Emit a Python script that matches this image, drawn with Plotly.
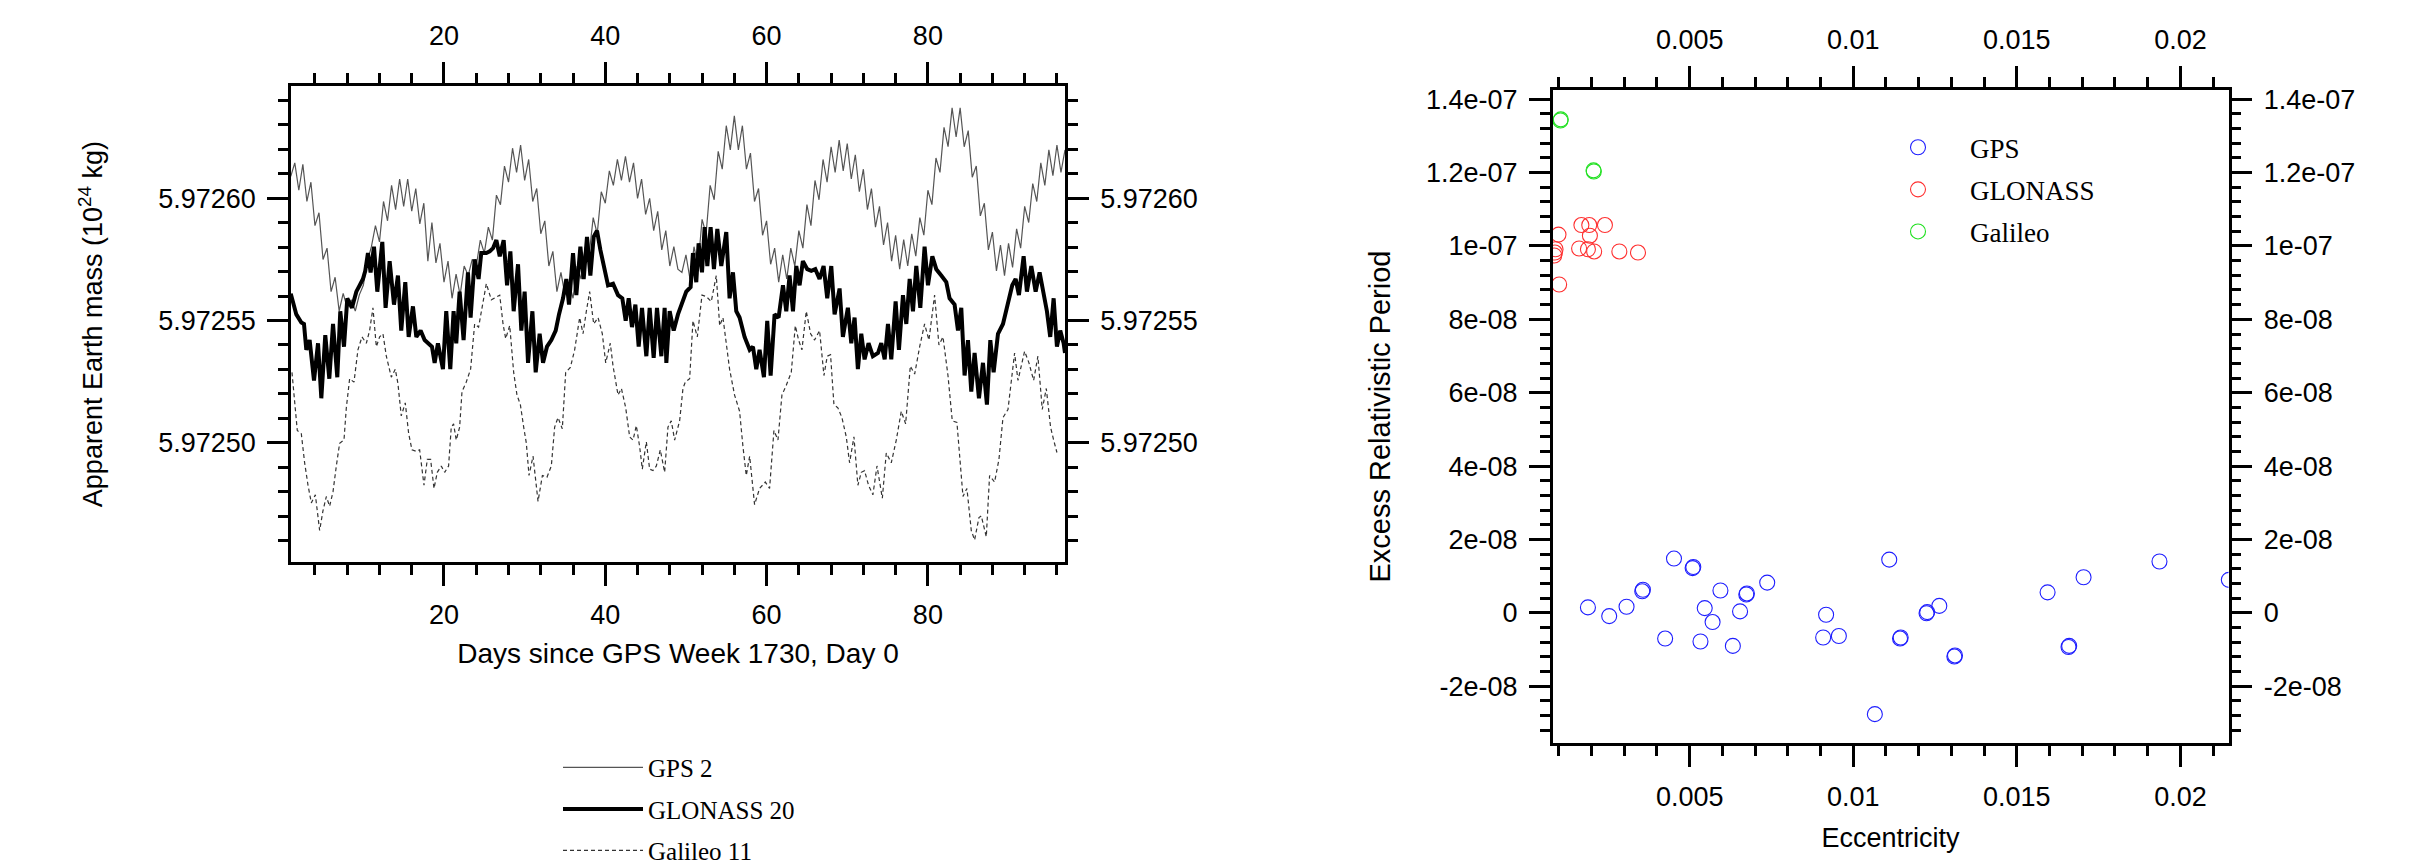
import plotly.graph_objects as go

# ---------------- Left panel data: apparent Earth mass (10^24 kg) ----------------
# GPS 2 sampled every half day from day 1.0 to 97.0
days = [1.0 + 0.5 * i for i in range(193)]
gps2_mass = [
    5.972609, 5.9726145, 5.9726033, 5.9726139, 5.9725987, 5.9726066, 5.9725888, 5.9725941,
    5.972575, 5.9725796, 5.9725618, 5.9725677, 5.9725539, 5.9725611, 5.9725552, 5.9725585,
    5.9725539, 5.9725605, 5.9725644, 5.9725743, 5.9725802, 5.9725888, 5.9725822, 5.9725987,
    5.9725908, 5.9726053, 5.9725954, 5.9726079, 5.9725967, 5.9726079, 5.9725947, 5.972604,
    5.9725895, 5.972598, 5.9725743, 5.9725901, 5.9725736, 5.9725816, 5.9725657, 5.9725743,
    5.9725591, 5.972569, 5.9725604, 5.9725723, 5.9725684, 5.972575, 5.9725723, 5.9725829,
    5.9725776, 5.9725882, 5.9725829, 5.9726013, 5.9725974, 5.9726132, 5.9726066, 5.9726205,
    5.9726106, 5.9726218, 5.9726073, 5.9726159, 5.9725987, 5.972604, 5.9725855, 5.9725908,
    5.9725723, 5.9725783, 5.9725618, 5.9725697, 5.9725604, 5.9725657, 5.9725591, 5.9725723,
    5.972567, 5.97258, 5.972577, 5.9725921, 5.9725855, 5.9726027, 5.972598, 5.9726112,
    5.9726053, 5.9726159, 5.9726073, 5.9726172, 5.9726066, 5.9726145, 5.9726, 5.9726079,
    5.9725934, 5.9726, 5.9725868, 5.9725947, 5.9725789, 5.9725868, 5.9725723, 5.9725802,
    5.972571, 5.9725697, 5.9725769, 5.972567, 5.9725802, 5.9725723, 5.9725914, 5.9725855,
    5.9726053, 5.9725994, 5.9726192, 5.9726119, 5.9726297, 5.9726198, 5.9726337, 5.9726198,
    5.9726297, 5.9726119, 5.9726185, 5.9725987, 5.972604, 5.9725849, 5.9725908, 5.972573,
    5.9725796, 5.9725657, 5.9725769, 5.972567, 5.9725796, 5.9725723, 5.9725868, 5.9725796,
    5.9725974, 5.9725888, 5.9726073, 5.9725994, 5.9726159, 5.9726066, 5.9726211, 5.9726106,
    5.9726238, 5.9726112, 5.9726224, 5.9726079, 5.9726178, 5.9726027, 5.9726119, 5.9725954,
    5.972604, 5.9725882, 5.9725967, 5.9725809, 5.9725901, 5.9725743, 5.9725849, 5.972571,
    5.9725831, 5.9725723, 5.9725855, 5.9725763, 5.9725921, 5.9725849, 5.9726033, 5.9725974,
    5.9726165, 5.9726106, 5.972629, 5.9726211, 5.972637, 5.9726251, 5.972637, 5.9726211,
    5.9726277, 5.9726086, 5.9726132, 5.9725928, 5.972598, 5.9725789, 5.9725862, 5.9725703,
    5.9725809, 5.9725684, 5.9725816, 5.9725717, 5.9725875, 5.9725796, 5.9725967, 5.9725901,
    5.972606, 5.9725987, 5.9726145, 5.9726053, 5.9726198, 5.9726093, 5.9726218, 5.9726106,
    5.9726198,
]

# GLONASS 20 (day, mass)
glonass20_day = [
    1.0, 1.28, 1.69, 2.31, 2.64, 2.93, 3.34, 3.88, 4.38, 4.79, 5.28, 5.78, 6.24, 6.77, 7.14, 7.6,
    8.01, 8.59, 9.13, 9.54, 9.95, 10.24, 10.57, 10.9, 11.32, 11.73, 12.35, 12.76, 13.26, 13.8,
    14.29, 14.7, 15.2, 15.62, 16.15, 16.57, 17.1, 17.6, 18.09, 18.51, 18.84, 19.25, 19.87, 20.28,
    20.78, 21.19, 21.52, 21.94, 22.43, 22.97, 23.3, 23.8, 24.29, 24.62, 25.25, 25.67, 26.08,
    26.49, 26.91, 27.4, 27.82, 28.23, 28.64, 29.18, 29.59, 30.0, 30.42, 30.96, 31.37, 31.86,
    32.28, 32.77, 33.31, 33.85, 34.26, 34.76, 35.17, 35.5, 36.0, 36.41, 36.91, 37.32, 37.73,
    38.15, 38.56, 38.97, 39.39, 39.8, 40.34, 40.96, 41.58, 42.11, 42.53, 42.9, 43.31, 43.73,
    44.14, 44.55, 45.09, 45.5, 46.0, 46.41, 46.95, 47.36, 47.57, 47.98, 48.48, 49.01, 49.5,
    50.04, 50.58, 50.87, 51.28, 51.57, 51.99, 52.32, 52.65, 53.06, 53.47, 53.89, 54.38, 55.0,
    55.41, 55.83, 56.24, 56.65, 57.27, 57.9, 58.31, 58.72, 59.13, 59.67, 60.08, 60.5, 60.99,
    61.49, 62.03, 62.44, 62.85, 63.27, 63.68, 64.09, 64.5, 65.04, 65.54, 66.04, 66.57, 67.07,
    67.52, 68.02, 68.43, 69.05, 69.46, 70.08, 70.5, 70.91, 71.32, 71.74, 72.15, 72.64, 73.18,
    73.81, 74.22, 74.64, 75.05, 75.46, 76.0, 76.41, 76.91, 77.32, 77.74, 78.15, 78.56, 79.06,
    79.59, 80.01, 80.55, 81.04, 81.66, 82.28, 82.69, 83.31, 83.73, 84.14, 84.55, 84.97, 85.38,
    85.79, 86.33, 86.83, 87.32, 87.74, 88.15, 88.69, 89.31, 89.93, 90.46, 90.88, 91.29, 91.87,
    92.28, 92.82, 93.36, 93.85, 94.35, 94.76, 95.17, 95.59, 96.0, 96.41, 96.83, 97.0,
]
glonass20_mass = [
    5.972561, 5.9725578, 5.9725525, 5.9725492, 5.9725486, 5.972538, 5.972542, 5.9725255,
    5.9725407, 5.9725182, 5.972544, 5.9725262, 5.9725486, 5.9725268, 5.9725538, 5.9725393,
    5.9725591, 5.9725552, 5.9725618, 5.9725644, 5.972567, 5.9725703, 5.9725776, 5.9725697,
    5.9725802, 5.9725618, 5.9725822, 5.9725552, 5.9725743, 5.9725565, 5.9725684, 5.9725459,
    5.9725657, 5.9725433, 5.9725558, 5.9725433, 5.9725459, 5.972542, 5.9725407, 5.9725393,
    5.9725327, 5.9725407, 5.9725301, 5.9725538, 5.9725301, 5.9725538, 5.9725407, 5.9725618,
    5.972542, 5.9725697, 5.9725512, 5.972575, 5.972567, 5.9725776, 5.9725776, 5.9725783,
    5.9725796, 5.9725829, 5.9725763, 5.9725829, 5.9725644, 5.9725783, 5.9725538, 5.972573,
    5.9725459, 5.9725618, 5.9725327, 5.9725538, 5.9725288, 5.9725446, 5.9725327, 5.9725393,
    5.972542, 5.9725459, 5.9725525, 5.9725591, 5.972567, 5.9725565, 5.9725776, 5.9725604,
    5.9725802, 5.972567, 5.9725842, 5.9725684, 5.9725842, 5.9725868, 5.9725789, 5.9725723,
    5.9725644, 5.9725651, 5.9725604, 5.9725591, 5.9725499, 5.9725591, 5.9725473, 5.9725565,
    5.9725393, 5.9725552, 5.9725354, 5.9725552, 5.9725347, 5.9725552, 5.9725354, 5.9725552,
    5.9725327, 5.9725538, 5.9725459, 5.9725525, 5.9725565, 5.9725618, 5.9725637, 5.9725776,
    5.9725657, 5.9725816, 5.9725697, 5.9725882, 5.9725723, 5.9725882, 5.972571, 5.9725875,
    5.9725723, 5.9725862, 5.9725591, 5.9725697, 5.9725538, 5.9725512, 5.9725433, 5.972538,
    5.9725393, 5.9725301, 5.972538, 5.9725268, 5.9725499, 5.9725275, 5.9725525, 5.9725512,
    5.9725644, 5.9725538, 5.9725684, 5.9725538, 5.9725723, 5.9725644, 5.9725743, 5.972571,
    5.9725703, 5.972571, 5.972567, 5.9725723, 5.9725591, 5.9725723, 5.9725525, 5.9725631,
    5.9725433, 5.9725552, 5.9725407, 5.9725512, 5.9725301, 5.9725446, 5.9725341, 5.9725407,
    5.9725354, 5.9725367, 5.9725407, 5.9725341, 5.9725486, 5.9725341, 5.9725578, 5.972538,
    5.9725604, 5.9725486, 5.972567, 5.9725538, 5.9725723, 5.9725552, 5.9725802, 5.9725644,
    5.9725763, 5.972571, 5.9725684, 5.9725657, 5.9725591, 5.9725565, 5.9725459, 5.9725552,
    5.9725275, 5.972542, 5.9725209, 5.9725367, 5.9725182, 5.9725327, 5.9725156, 5.972542,
    5.9725288, 5.9725446, 5.9725486, 5.9725565, 5.9725644, 5.972567, 5.9725604, 5.9725763,
    5.9725618, 5.9725723, 5.9725618, 5.9725697, 5.9725618, 5.9725538, 5.9725433, 5.9725591,
    5.9725393, 5.9725459, 5.9725407, 5.9725367,
]

# Galileo 11 (day, mass)
galileo11_day = [
    1.15, 1.4, 1.81, 2.31, 2.72, 3.14, 3.55, 4.05, 4.58, 4.99, 5.41, 5.82, 6.24, 6.65, 7.06,
    7.6, 7.89, 8.3, 8.84, 9.33, 9.83, 10.37, 10.78, 11.19, 11.61, 12.02, 12.43, 12.85, 13.47,
    13.96, 14.29, 14.7, 15.2, 15.62, 16.03, 16.57, 16.98, 17.52, 17.93, 18.34, 18.76, 19.17,
    19.66, 20.08, 20.57, 20.9, 21.19, 21.52, 21.94, 22.23, 22.76, 23.3, 23.8, 24.29, 24.83,
    25.25, 25.87, 26.91, 27.32, 27.65, 28.15, 28.64, 29.05, 29.47, 29.88, 30.21, 30.54, 31.04,
    31.66, 32.2, 32.77, 33.31, 33.72, 34.14, 34.67, 35.09, 35.67, 36.2, 36.82, 37.24, 37.65,
    38.06, 38.56, 39.1, 39.63, 40.05, 40.62, 40.96, 41.58, 42.0, 42.53, 43.02, 43.44, 43.85,
    44.26, 44.59, 45.09, 45.5, 45.91, 46.33, 46.82, 47.36, 47.77, 48.18, 48.6, 49.22, 49.63,
    49.92, 50.46, 50.87, 51.41, 51.99, 52.52, 53.14, 53.76, 54.18, 54.59, 55.41, 56.03, 56.65,
    57.07, 57.48, 57.9, 58.51, 59.13, 59.84, 60.37, 60.91, 61.41, 61.9, 62.44, 63.06, 63.56,
    63.97, 64.38, 64.92, 65.46, 65.95, 66.57, 67.11, 67.52, 67.93, 68.35, 68.84, 69.34, 69.88,
    70.29, 70.83, 71.32, 71.74, 72.15, 72.64, 73.18, 73.69, 74.35, 74.84, 75.46, 76.08, 76.7,
    77.24, 77.82, 78.36, 78.98, 79.59, 80.13, 80.83, 81.37, 81.87, 82.49, 83.02, 83.6, 84.02,
    84.35, 84.84, 85.38, 85.79, 86.33, 86.62, 87.24, 87.65, 88.27, 88.81, 89.31, 89.93, 90.55,
    90.75, 91.17, 91.99, 92.53, 93.11, 93.64, 94.18, 94.68, 95.21, 95.59, 96.0,
]
galileo11_mass = [
    5.9725288, 5.9725195, 5.972505, 5.9725037, 5.9724918, 5.9724826, 5.9724754, 5.9724787,
    5.9724641, 5.9724721, 5.972478, 5.972474, 5.97248, 5.9724905, 5.9724998, 5.9725011,
    5.9725143, 5.9725262, 5.9725248, 5.972538, 5.9725433, 5.9725407, 5.9725459, 5.9725552,
    5.9725393, 5.9725433, 5.9725446, 5.9725354, 5.9725268, 5.9725301, 5.9725242, 5.972511,
    5.9725163, 5.9725037, 5.9724971, 5.9724965, 5.9724971, 5.9724826, 5.9724932, 5.9724932,
    5.9724813, 5.9724879, 5.9724905, 5.9724879, 5.9724905, 5.9725064, 5.9725077, 5.9725011,
    5.9725064, 5.9725209, 5.9725248, 5.9725301, 5.9725486, 5.9725473, 5.9725565, 5.9725651,
    5.9725585, 5.9725604, 5.9725486, 5.9725426, 5.9725479, 5.9725288, 5.9725195, 5.9725156,
    5.9725064, 5.9724998, 5.9724866, 5.9724945, 5.972476, 5.9724866, 5.9724859, 5.9724905,
    5.9725064, 5.9725103, 5.9725057, 5.9725288, 5.9725308, 5.972538, 5.9725512, 5.9725446,
    5.9725538, 5.9725618, 5.9725486, 5.9725512, 5.9725446, 5.9725327, 5.9725407, 5.9725314,
    5.9725195, 5.9725222, 5.9725143, 5.9725024, 5.9725011, 5.972507, 5.9724984, 5.9724892,
    5.9725004, 5.9724892, 5.9724886, 5.9724905, 5.9724971, 5.9724879, 5.9725064, 5.972509,
    5.9725011, 5.972509, 5.9725222, 5.9725248, 5.9725262, 5.9725499, 5.9725433, 5.9725604,
    5.9725598, 5.9725578, 5.9725684, 5.9725479, 5.9725512, 5.9725301, 5.9725195, 5.9725129,
    5.9724984, 5.9724866, 5.9724945, 5.9724747, 5.9724813, 5.9724839, 5.9724813, 5.972505,
    5.9725011, 5.9725195, 5.9725235, 5.9725288, 5.9725479, 5.972542, 5.972538, 5.9725538,
    5.9725446, 5.972542, 5.9725459, 5.9725275, 5.9725354, 5.972536, 5.9725156, 5.9725143,
    5.9725103, 5.9725024, 5.9724918, 5.9725024, 5.9724826, 5.9724879, 5.9724886, 5.9724826,
    5.9724787, 5.9724905, 5.9724773, 5.9724958, 5.9724918, 5.9725011, 5.9725129, 5.9725077,
    5.9725314, 5.9725281, 5.9725393, 5.9725486, 5.972542, 5.9725604, 5.97254, 5.9725433,
    5.9725275, 5.972509, 5.9725083, 5.9724905, 5.972478, 5.9724813, 5.9724641, 5.9724602,
    5.9724694, 5.9724701, 5.9724615, 5.9724866, 5.9724839, 5.9724932, 5.9725103, 5.9725136,
    5.9725314, 5.9725367, 5.9725255, 5.9725374, 5.9725327, 5.9725255, 5.9725354, 5.9725136,
    5.9725222, 5.9725064, 5.9725011, 5.972496,
]

days_ticks = [20, 40, 60, 80]

# ---------------- Right panel data: eccentricity vs excess relativistic period ----------------
gps_ecc = [0.00189, 0.00254, 0.00307, 0.00355, 0.00357, 0.00452, 0.00509, 0.00511, 0.00425,
           0.00546, 0.00533, 0.00570, 0.00594, 0.00632, 0.00654, 0.00673, 0.00675, 0.00737,
           0.00917, 0.00908, 0.00956, 0.01066, 0.01110, 0.01143, 0.01145, 0.01224, 0.01226,
           0.01263, 0.01309, 0.01311, 0.01594, 0.01658, 0.01660, 0.01704, 0.01936, 0.02148]
gps_period = [1.49e-9, -0.88e-9, 1.67e-9, 5.88e-9, 6.3e-9, 1.48e-8, 1.22e-8, 1.25e-8, -7.0e-9,
              1.3e-9, -7.8e-9, -2.5e-9, 6.1e-9, -9.0e-9, 0.4e-9, 5.0e-9, 5.3e-9, 8.25e-9,
              -0.5e-9, -6.7e-9, -6.3e-9, -2.76e-8, 1.45e-8, -7.0e-9, -6.7e-9, -0.1e-9, 0.2e-9,
              1.9e-9, -1.19e-8, -1.16e-8, 5.6e-9, -9.3e-9, -9.0e-9, 9.7e-9, 1.40e-8, 9.0e-9]

glonass_ecc = [0.00099, 0.00090, 0.00088, 0.00086, 0.00101, 0.00169, 0.00193, 0.00241,
               0.00195, 0.00162, 0.00189, 0.00208, 0.00285, 0.00342]
glonass_period = [1.031e-7, 0.991e-7, 0.982e-7, 0.974e-7, 0.895e-7, 1.057e-7, 1.057e-7, 1.057e-7,
                  1.028e-7, 0.993e-7, 0.991e-7, 0.985e-7, 0.985e-7, 0.982e-7]

galileo_ecc = [0.00105, 0.00106, 0.00206, 0.00207]
galileo_period = [1.342e-7, 1.345e-7, 1.206e-7, 1.203e-7]

ecc_tick_vals = [0.005, 0.01, 0.015, 0.02]
ecc_tick_text = ["0.005", "0.01", "0.015", "0.02"]
period_tick_vals = [-2e-8, 0, 2e-8, 4e-8, 6e-8, 8e-8, 1e-7, 1.2e-7, 1.4e-7]
period_tick_text = ["-2e-08", "0", "2e-08", "4e-08", "6e-08", "8e-08", "1e-07", "1.2e-07", "1.4e-07"]

# ---------------- Figure ----------------
W, H = 2425, 866
SANS = "Liberation Sans"
SERIF = "Liberation Serif"

fig = go.Figure()

fig.add_trace(go.Scatter(x=days, y=gps2_mass, mode="lines", name="GPS 2",
                         line=dict(color="#555555", width=1.2), legend="legend", legendrank=1,
                         legendgroup="a", xaxis="x", yaxis="y"))
fig.add_trace(go.Scatter(x=galileo11_day, y=galileo11_mass, mode="lines", name="Galileo 11",
                         line=dict(color="#333333", width=1.2, dash="4px,3px"), legend="legend",
                         legendrank=3, legendgroup="c", xaxis="x", yaxis="y"))
fig.add_trace(go.Scatter(x=glonass20_day, y=glonass20_mass, mode="lines", name="GLONASS 20",
                         line=dict(color="black", width=4), legend="legend", legendrank=2,
                         legendgroup="b", xaxis="x", yaxis="y"))
# empty trace so the mirrored (top / right) axes of the left panel are drawn
fig.add_trace(go.Scatter(x=[], y=[], xaxis="x2", yaxis="y2", showlegend=False, hoverinfo="skip"))


def circles(x, y, name, color, grp):
    return go.Scatter(x=x, y=y, mode="markers", name=name, legend="legend2", legendgroup=grp,
                      marker=dict(symbol="circle-open", size=15, color=color,
                                  line=dict(width=1.1, color=color)),
                      xaxis="x3", yaxis="y3")


fig.add_trace(circles(gps_ecc, gps_period, "GPS", "#1f1fff", "g1"))
fig.add_trace(circles(glonass_ecc, glonass_period, "GLONASS", "#ff3030", "g2"))
fig.add_trace(circles(galileo_ecc, galileo_period, "Galileo", "#20e020", "g3"))
fig.add_trace(go.Scatter(x=[], y=[], xaxis="x4", yaxis="y4", showlegend=False, hoverinfo="skip"))

tickfont = dict(family=SANS, size=27, color="black")


def ax(**kw):
    base = dict(showgrid=False, zeroline=False, showline=True, linecolor="black", linewidth=2.5,
                ticks="outside", ticklen=21, tickwidth=2.5, tickcolor="black", tickfont=tickfont,
                ticklabelstandoff=6)
    base.update(kw)
    return base


L_X = [283 / W, 1057 / W]
L_Y = [1 - 568.3 / H, 1 - 75.4 / H]
R_X = [1544.7 / W, 2220.5 / W]
R_Y = [1 - 755.7 / H, 1 - 79.3 / H]

x_rng = [1.03, 97.0]
y_rng = [5.9724511, 5.972646]
ex_rng = [0.000813, 0.02147]
ey_rng = [-3.557e-08, 1.426e-07]

minor_days = dict(ticks="outside", ticklen=10, tickwidth=2.5, tickcolor="black", dtick=4, tick0=0, showgrid=False)
minor_mass = dict(ticks="outside", ticklen=10, tickwidth=2.5, tickcolor="black", dtick=0.00001, tick0=5.9725, showgrid=False)
minor_ecc = dict(ticks="outside", ticklen=10, tickwidth=2.5, tickcolor="black", tickmode="linear", dtick=0.001, tick0=0, showgrid=False)
minor_per = dict(ticks="outside", ticklen=10, tickwidth=2.5, tickcolor="black", tickmode="linear", dtick=4e-9, tick0=0, showgrid=False)

fig.update_layout(
    width=W, height=H, margin=dict(l=0, r=0, t=0, b=0),
    paper_bgcolor="white", plot_bgcolor="white",
    showlegend=True,
    xaxis=ax(domain=L_X, anchor="y", range=x_rng, tickmode="array", tickvals=days_ticks,
             minor=minor_days,
             title=dict(text="Days since GPS Week 1730, Day 0", font=dict(family=SANS, size=28, color="black"), standoff=14)),
    xaxis2=ax(overlaying="x", anchor="y", side="top", range=x_rng, tickmode="array", tickvals=days_ticks,
              minor=minor_days),
    yaxis=ax(domain=L_Y, anchor="x", range=y_rng, tickmode="linear", tick0=5.9725, dtick=0.00005,
             tickformat=".5f", minor=minor_mass,
             title=dict(text="Apparent Earth mass (10<sup>24</sup> kg)", font=dict(family=SANS, size=27, color="black"), standoff=48)),
    yaxis2=ax(overlaying="y", anchor="x", side="right", range=y_rng, tickmode="linear", tick0=5.9725,
              dtick=0.00005, tickformat=".5f", minor=minor_mass),
    xaxis3=ax(domain=R_X, anchor="y3", range=ex_rng, tickmode="array", tickvals=ecc_tick_vals,
              ticktext=ecc_tick_text, minor=minor_ecc,
              title=dict(text="Eccentricity", font=dict(family=SANS, size=27, color="black"), standoff=18)),
    xaxis4=ax(overlaying="x3", anchor="y3", side="top", range=ex_rng, tickmode="array",
              tickvals=ecc_tick_vals, ticktext=ecc_tick_text, minor=minor_ecc),
    yaxis3=ax(domain=R_Y, anchor="x3", range=ey_rng, tickmode="array", tickvals=period_tick_vals,
              ticktext=period_tick_text, minor=minor_per,
              title=dict(text="Excess Relativistic Period", font=dict(family=SANS, size=29, color="black"), standoff=27)),
    yaxis4=ax(overlaying="y3", anchor="x3", side="right", range=ey_rng, tickmode="array",
              tickvals=period_tick_vals, ticktext=period_tick_text, minor=minor_per),
    legend=dict(x=550 / W, y=1 - 757 / H, xanchor="left", yanchor="top", bgcolor="rgba(0,0,0,0)",
                font=dict(family=SERIF, size=25, color="black"), itemwidth=80, tracegroupgap=6,
                borderwidth=0),
    legend2=dict(x=1858 / W, y=1 - 114 / H, xanchor="left", yanchor="top", bgcolor="rgba(0,0,0,0)",
                 font=dict(family=SERIF, size=27, color="black"), itemwidth=94, tracegroupgap=4,
                 borderwidth=0),
)

fig.write_html("out.html")
